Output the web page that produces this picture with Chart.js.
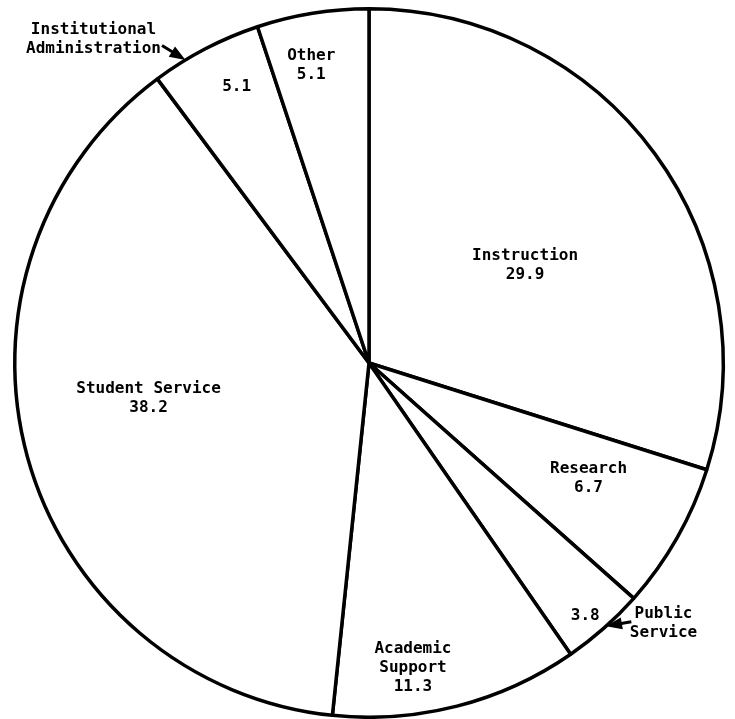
<!DOCTYPE html>
<html>
<head>
<meta charset="utf-8">
<script src="https://cdn.jsdelivr.net/npm/chart.js@4.4.0/dist/chart.umd.min.js"></script>
<style>
    html, body { margin: 0; padding: 0; background: #fff; }
    #wrap { width: 735px; height: 719px; position: relative; }
</style>
</head>
<body>
<div id="wrap"><canvas id="pieChart"></canvas></div>
<script>
// Share of expenditure by function (percent)
const categories = ['Instruction', 'Research', 'Public Service', 'Academic Support', 'Student Service', 'Institutional Administration', 'Other'];
const shares = [29.9, 6.7, 3.8, 11.3, 38.2, 5.1, 5.1];
const valueLabels = ['29.9', '6.7', '3.8', '11.3', '38.2', '5.1', '5.1'];
// how each name is broken into lines on the chart
const nameLines = [['Instruction'], ['Research'], ['Public', 'Service'], ['Academic', 'Support'], ['Student Service'], ['Institutional', 'Administration'], ['Other']];

// where the text goes: angle clockwise from 12 o'clock (deg), distance as a fraction of the radius
// slices with "name" get the name outside the pie and an arrow pointing at the slice
const placement = [
    {angle: 57.9, r: 0.52},
    {angle: 117.7, r: 0.70},
    {angle: 139.5, r: 0.94, name: {angle: 131.5, r: 1.11}, arrow: {from: [134.6, 1.04], to: [138.0, 1.0]}},
    {angle: 171.8, r: 0.87},
    {angle: 261, r: 0.63},
    {angle: 334.4, r: 0.865, name: {angle: 319.6, r: 1.20}, arrow: {from: [326.9, 1.07], to: [328.8, 1.0]}},
    {angle: 349, r: 0.855}
];

const FONT = 'bold 16px "DejaVu Sans Mono", "Liberation Mono", monospace';
const LINE_H = 19;

const sliceLabels = {
    id: 'sliceLabels',
    afterDatasetsDraw(chart) {
        const ctx = chart.ctx;
        const arcs = chart.getDatasetMeta(0).data;
        if (!arcs.length) return;
        const cx = arcs[0].x, cy = arcs[0].y, R = arcs[0].outerRadius;
        const pt = (deg, f) => {
            const a = deg * Math.PI / 180;
            return [cx + R * f * Math.sin(a), cy - R * f * Math.cos(a)];
        };
        const block = (lines, x, y) => {
            const top = y - (lines.length - 1) * LINE_H / 2;
            lines.forEach((t, k) => ctx.fillText(t, x, top + k * LINE_H));
        };

        ctx.save();
        ctx.font = FONT;
        ctx.fillStyle = '#000';
        ctx.strokeStyle = '#000';
        ctx.textAlign = 'center';
        ctx.textBaseline = 'middle';

        placement.forEach((p, i) => {
            const [x, y] = pt(p.angle, p.r);
            if (p.name) {
                block([valueLabels[i]], x, y);
                const [nx, ny] = pt(p.name.angle, p.name.r);
                block(nameLines[i], nx, ny);
                // arrow to the slice edge
                const [x1, y1] = pt(p.arrow.from[0], p.arrow.from[1]);
                const [x2, y2] = pt(p.arrow.to[0], p.arrow.to[1]);
                const dir = Math.atan2(y2 - y1, x2 - x1);
                const len = 16, half = 6;
                ctx.lineWidth = 3;
                ctx.beginPath();
                ctx.moveTo(x1, y1);
                ctx.lineTo(x2 - len * 0.5 * Math.cos(dir), y2 - len * 0.5 * Math.sin(dir));
                ctx.stroke();
                ctx.beginPath();
                ctx.moveTo(x2, y2);
                ctx.lineTo(x2 - len * Math.cos(dir) + half * Math.sin(dir), y2 - len * Math.sin(dir) - half * Math.cos(dir));
                ctx.lineTo(x2 - len * Math.cos(dir) - half * Math.sin(dir), y2 - len * Math.sin(dir) + half * Math.cos(dir));
                ctx.closePath();
                ctx.fill();
            } else {
                block(nameLines[i].concat(valueLabels[i]), x, y);
            }
        });
        ctx.restore();
    }
};

const pieCtx = document.getElementById('pieChart').getContext('2d');

const pieChart = new Chart(pieCtx, {
    type: 'pie',
    data: {
        labels: categories,
        datasets: [{
            data: shares,
            backgroundColor: '#ffffff',
            borderColor: '#000000',
            borderWidth: 3.5
        }]
    },
    options: {
        responsive: true,
        maintainAspectRatio: false,
        animation: false,
        devicePixelRatio: 1,
        layout: {
            padding: {top: 7, bottom: 0, left: 13, right: 10}
        },
        plugins: {
            legend: {display: false},
            tooltip: {enabled: false}
        }
    },
    plugins: [sliceLabels]
});
</script>
</body>
</html>
